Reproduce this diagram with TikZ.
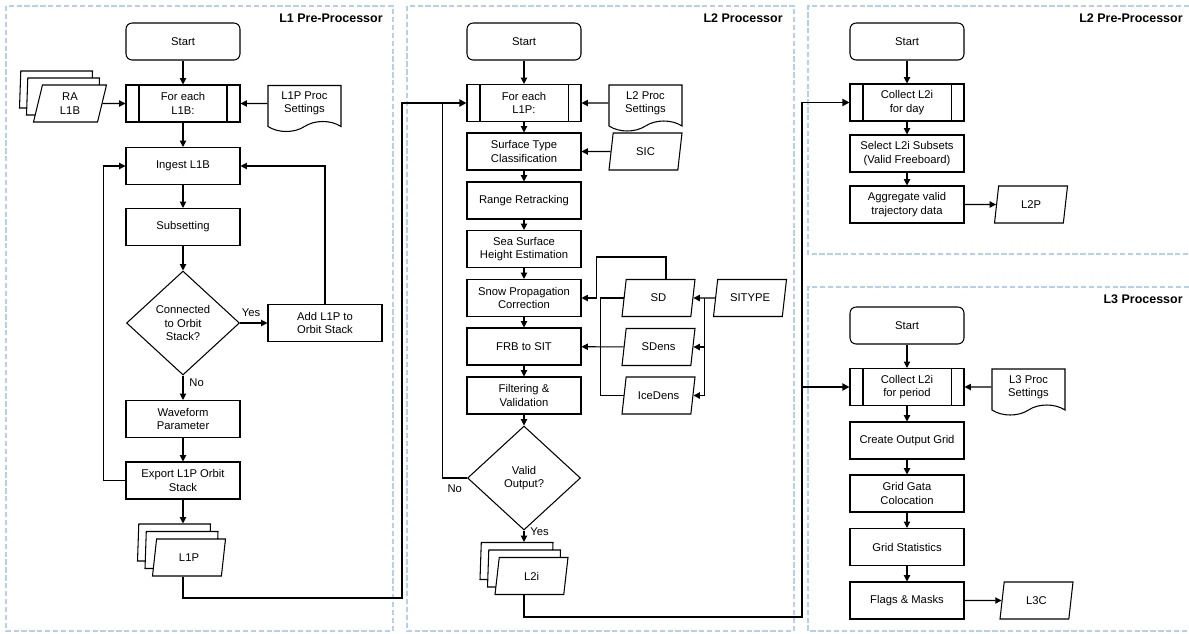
\documentclass[tikz,border=0pt]{standalone}
\usepackage{fontspec}
\setmainfont{Liberation Sans}
\usetikzlibrary{shapes.geometric, shapes.symbols, arrows.meta, calc}
\definecolor{panelblue}{RGB}{180,208,236}
\tikzstyle{base} = [draw, line width=0.6pt, align=center, inner sep=1pt, fill=white]
\tikzstyle{startbox} = [base, rectangle, rounded corners=3.5pt, minimum width=2.28cm, minimum height=0.74cm]
\tikzstyle{proc} = [base, rectangle, minimum width=2.28cm, minimum height=0.74cm]
\tikzstyle{data} = [base, trapezium, trapezium left angle=70, trapezium right angle=110, trapezium stretches body, minimum width=1.46cm, minimum height=0.74cm]
\tikzstyle{doc} = [base, tape, tape bend top=none, tape bend height=0.2cm, minimum width=1.46cm, minimum height=0.92cm]
\tikzstyle{decision} = [base, diamond, minimum width=2.26cm, minimum height=2.08cm, inner sep=0pt]
\tikzstyle{title} = [inner sep=0pt, anchor=east, font=\fontsize{7.1}{8.5}\selectfont\bfseries]
\tikzstyle{panel} = [draw=panelblue, line width=0.6pt, dash pattern=on 3pt off 1.5pt]
\tikzstyle{reg} = [-{Triangle[length=3.6pt,width=3.6pt]}, line width=0.6pt]
\tikzstyle{bus} = [-{Triangle[length=4pt,width=4pt]}, line width=1.1pt]

\begin{document}
\begin{tikzpicture}[x=0.02cm, y=-0.02cm, font=\fontsize{6.4}{7.6}\selectfont]
  \useasboundingbox (0,0) rectangle (1189,633);

  % 面板
  \draw[panel] (6,6) rectangle (393,631);
  \draw[panel] (407,6) rectangle (794,631);
  \draw[panel] (1189,6) -- (808,6) -- (808,254) -- (1189,254);
  \draw[panel] (1189,287) -- (808,287) -- (808,631) -- (1189,631);
  \node[title] (t1) at (383,18) {L1 Pre-Processor};
  \node[title] (t2) at (783,18) {L2 Processor};
  \node[title] (t3) at (1183,18) {L2 Pre-Processor};
  \node[title] (t4) at (1183,299) {L3 Processor};

  % L1 预处理
  \node[startbox] (s1) at (183,41.5) {Start};
  \node[proc] (fe1) at (183,103.5) {For each\\L1B:};
  \node[data] (ra1C) at (56,89.5) {};
  \node[data] (ra1B) at (63,96.5) {};
  \node[data] (ra1A) at (70,103.5) {RA\\L1B};
  \node[doc] (set1) at (304.5,103.5) {L1P Proc\\Settings};
  \node[proc] (ing) at (183,166) {Ingest L1B};
  \node[proc] (sub) at (183,227) {Subsetting};
  \node[decision] (dia) at (183,323) {Connected\\to Orbit\\Stack?};
  \node[proc] (add) at (325,323) {Add L1P to\\Orbit Stack};
  \node[proc] (wav) at (183,419) {Waveform\\Parameter};
  \node[proc] (exp) at (183,480.5) {Export L1P Orbit\\Stack};
  \node[data] (l1pC) at (174,542.5) {};
  \node[data] (l1pB) at (181.5,550) {};
  \node[data] (l1pA) at (189,557.5) {L1P};

  % L2 处理
  \node[startbox] (s2) at (524,41.5) {Start};
  \node[proc] (fe2) at (524,103) {For each\\L1P:};
  \node[doc] (set2) at (645.5,103) {L2 Proc\\Settings};
  \node[proc] (sur) at (524,151.5) {Surface Type\\Classification};
  \node[data] (sic) at (645.5,151.5) {SIC};
  \node[proc] (rng) at (524,200.5) {Range Retracking};
  \node[proc] (ssh) at (524,249) {Sea Surface\\Height Estimation};
  \node[proc] (snw) at (524,298) {Snow Propagation\\Correction};
  \node[proc] (frb) at (524,346.5) {FRB to SIT};
  \node[proc] (fil) at (524,395.5) {Filtering \&\\Validation};
  \node[decision] (val) at (524,478) {Valid\\Output?};
  \node[data] (sd) at (658.5,298) {SD};
  \node[data] (sdens) at (658.5,347) {SDens};
  \node[data] (ice) at (658.5,395.5) {IceDens};
  \node[data] (sit) at (750,298) {SITYPE};
  \node[data] (l2iC) at (516.5,561) {};
  \node[data] (l2iB) at (524,568.5) {};
  \node[data] (l2iA) at (531.5,576) {L2i};

  % L2 预处理
  \node[startbox] (s3) at (907,41.5) {Start};
  \node[proc] (cd) at (907,102.5) {Collect L2i\\for day};
  \node[proc] (sel) at (907,153.5) {Select L2i Subsets\\(Valid Freeboard)};
  \node[proc] (agg) at (907,204.5) {Aggregate valid\\trajectory data};
  \node[data] (l2p) at (1031,204.5) {L2P};

  % L3 处理
  \node[startbox] (s4) at (907,325.5) {Start};
  \node[proc] (cp) at (907,387) {Collect L2i\\for period};
  \node[doc] (set3) at (1028.5,387) {L3 Proc\\Settings};
  \node[proc] (grd) at (907,440.5) {Create Output Grid};
  \node[proc] (col) at (907,493.5) {Grid Gata\\Colocation};
  \node[proc] (sta) at (907,547) {Grid Statistics};
  \node[proc] (flg) at (907,600.5) {Flags \& Masks};
  \node[data] (l3c) at (1036.5,600.5) {L3C};

  % 子流程竖线
  \foreach \n in {fe1, fe2, cd, cp} {
    \draw[line width=0.6pt] ([xshift=0.27cm]\n.north west) -- ([xshift=0.27cm]\n.south west);
    \draw[line width=0.6pt] ([xshift=-0.27cm]\n.north east) -- ([xshift=-0.27cm]\n.south east);
  }

  % L1 连线
  \draw[reg] (s1) -- (fe1);
  \draw[reg] (ra1A) -- (fe1);
  \draw[reg] (set1) -- (fe1);
  \draw[reg] (fe1) -- (ing);
  \draw[reg] (ing) -- (sub);
  \draw[reg] (sub) -- (dia);
  \draw[reg] (dia) -- node[above, pos=0.4] {Yes} (add);
  \draw[reg] (dia) -- node[right, pos=0.3] {No} (wav);
  \draw[reg] (wav) -- (exp);
  \draw[reg] (add) |- (ing);
  \draw[reg] (exp.west) -| ([xshift=-0.44cm]ing.west) -- (ing.west);
  \draw[reg] (exp) -- (exp |- l1pC.north);

  % L2 连线
  \draw[reg] (s2) -- (fe2);
  \draw[reg] (set2) -- (fe2);
  \draw[reg] (fe2) -- (sur);
  \draw[reg] (sic) -- (sur);
  \draw[reg] (sur) -- (rng);
  \draw[reg] (rng) -- (ssh);
  \draw[reg] (ssh) -- (snw);
  \draw[reg] (snw) -- (frb);
  \draw[reg] (frb) -- (fil);
  \draw[reg] (fil) -- (val);
  \draw[reg] (val) -- node[right, pos=0.1] {Yes} (val.south |- l2iC.north);
  \draw[line width=0.6pt] (val.west) -| node[below, pos=0.25] {No} ([xshift=-0.48cm]fe2.west);
  \draw[reg] (sit) -- (sd);
  \coordinate (j3) at ($(sd.east)!0.5!(sit.west)$);
  \draw[reg] (j3) |- (sdens.east);
  \draw[reg] (j3) |- (ice.east);
  \draw[reg] ([xshift=0.15cm]sd.north) -- ++(0,-22) -| ([xshift=0.3cm]snw.east) -- (snw.east);
  \coordinate (j4) at ([xshift=-0.47cm]sdens.west);
  \draw[line width=0.6pt] (sd.west) -| (j4 |- ice.west) -- (ice.west);
  \draw[reg] (sdens) -- (frb);

  % 右侧连线
  \draw[reg] (s3) -- (cd);
  \draw[reg] (cd) -- (sel);
  \draw[reg] (sel) -- (agg);
  \draw[reg] (agg) -- (l2p);
  \draw[reg] (s4) -- (cp);
  \draw[reg] (set3) -- (cp);
  \draw[reg] (cp) -- (grd);
  \draw[reg] (grd) -- (col);
  \draw[reg] (col) -- (sta);
  \draw[reg] (sta) -- (flg);
  \draw[reg] (flg) -- (l3c);

  % 跨面板连线
  \coordinate (j1) at (402,598);
  \coordinate (j2) at (802,617);
  \draw[bus] (l1pA.south -| exp.south) |- (j1) |- (fe2.west);
  \draw[bus] (l2iA.south -| val.south) |- (j2) |- (cd.west);
  \draw[bus] (j2 |- cp.west) -- (cp.west);
\end{tikzpicture}
\end{document}
